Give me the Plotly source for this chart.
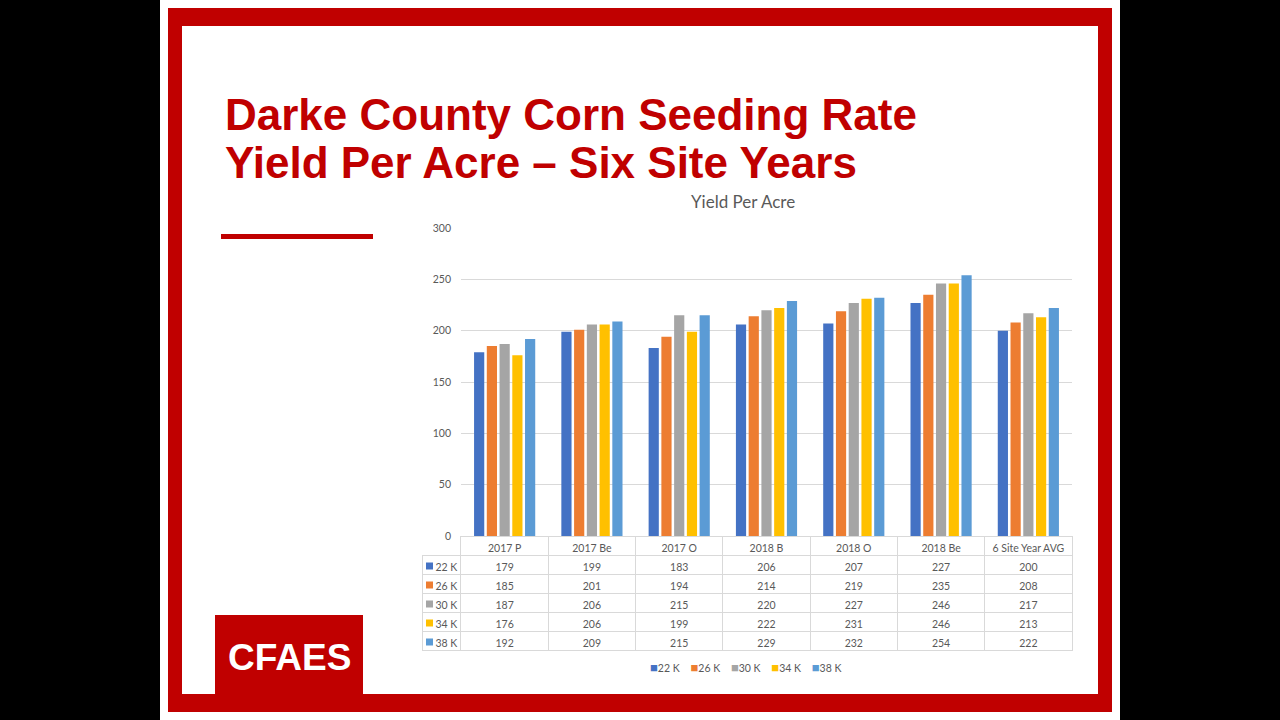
import plotly.graph_objects as go

# ---------------- data ----------------
categories = ["2017 P", "2017 Be", "2017 O", "2018 B", "2018 O", "2018 Be", "6 Site Year AVG"]
series_names = ["22 K", "26 K", "30 K", "34 K", "38 K"]
yield_22k = [179, 199, 183, 206, 207, 227, 200]
yield_26k = [185, 201, 194, 214, 219, 235, 208]
yield_30k = [187, 206, 215, 220, 227, 246, 217]
yield_34k = [176, 206, 199, 222, 231, 246, 213]
yield_38k = [192, 209, 215, 229, 232, 254, 222]
series_values = [yield_22k, yield_26k, yield_30k, yield_34k, yield_38k]
y_ticks = [0, 50, 100, 150, 200, 250, 300]

colors = ["#4472C4", "#ED7D31", "#A5A5A5", "#FFC000", "#5B9BD5"]
RED = "#C00000"
GRAY_TXT = "#595959"
GRID = "#D9D9D9"
FONT = "Lato"
NB = "\u00a0"  # non-breaking space keeps table text on one line

W, H = 1280, 720
TABLE_TOP = 536
ROW_H = 19


def px(x):
    return x / W


def py(y):
    return 1 - y / H


fig = go.Figure()

for name, vals, col in zip(series_names, series_values, colors):
    fig.add_trace(go.Bar(x=categories, y=vals, name=name, marker=dict(color=col, line=dict(width=0)),
                         xaxis="x", yaxis="y", showlegend=False))

# data table under the chart
ncat = len(categories)
legend_labels = [NB * 2 + n.replace(" ", NB) for n in series_names]
header_vals = [""] + [c.replace(" ", NB) for c in categories]
table_cols = [legend_labels] + [[vals[i] for vals in series_values] for i in range(ncat)]
fig.add_trace(go.Table(
    domain=dict(x=[px(422), px(1072)], y=[py(680), py(TABLE_TOP)]),
    columnwidth=[39] + [87.3] * ncat,
    header=dict(values=header_vals, height=ROW_H,
                fill=dict(color=["rgba(0,0,0,0)"] + ["white"] * ncat),
                line=dict(color=["rgba(0,0,0,0)"] + [GRID] * ncat, width=1),
                font=dict(family=FONT, size=10.5, color=GRAY_TXT),
                align="center"),
    cells=dict(values=table_cols, height=ROW_H,
               fill=dict(color="white"),
               line=dict(color=GRID, width=1),
               font=dict(family=FONT, size=10.5, color=GRAY_TXT),
               align=["left"] + ["center"] * ncat),
))

shapes = [
    dict(type="rect", xref="paper", yref="paper", x0=px(160), x1=px(1120), y0=py(720), y1=py(0),
         fillcolor="white", line=dict(width=0), layer="below"),
    dict(type="rect", xref="paper", yref="paper", x0=px(168), x1=px(1112), y0=py(712), y1=py(8),
         fillcolor=RED, line=dict(width=0), layer="below"),
    dict(type="rect", xref="paper", yref="paper", x0=px(182), x1=px(1098), y0=py(694), y1=py(26),
         fillcolor="white", line=dict(width=0), layer="below"),
    dict(type="rect", xref="paper", yref="paper", x0=px(221), x1=px(373), y0=py(239), y1=py(234),
         fillcolor=RED, line=dict(width=0), layer="below"),
    dict(type="rect", xref="paper", yref="paper", x0=px(215), x1=px(363), y0=py(695), y1=py(615),
         fillcolor=RED, line=dict(width=0), layer="below"),
]
# colour keys in the table's legend column
for i, c in enumerate(colors):
    yc = TABLE_TOP + ROW_H * (i + 1) + ROW_H / 2 + 1.5
    shapes.append(dict(type="rect", xref="paper", yref="paper", x0=px(426), x1=px(433),
                       y0=py(yc + 3.5), y1=py(yc - 3.5), fillcolor=c, line=dict(width=0), layer="above"))

legend_text = (NB * 4).join(
    f'<span style="color:{c};font-size:13px">■</span>{n.replace(" ", NB)}' for n, c in zip(series_names, colors))

annotations = [
    dict(text="Darke County Corn Seeding Rate", xref="paper", yref="paper", x=px(223), y=py(115),
         xanchor="left", yanchor="middle", showarrow=False,
         font=dict(family="Liberation Sans", size=44, color=RED, weight="bold")),
    dict(text="Yield Per Acre – Six Site Years", xref="paper", yref="paper", x=px(223), y=py(163),
         xanchor="left", yanchor="middle", showarrow=False,
         font=dict(family="Liberation Sans", size=44, color=RED, weight="bold")),
    dict(text="CFAES", xref="paper", yref="paper", x=px(289), y=py(657),
         xanchor="center", yanchor="middle", showarrow=False,
         font=dict(family="Liberation Sans", size=37, color="white", weight="bold")),
    dict(text="Yield Per Acre", xref="paper", yref="paper", x=px(743), y=py(201),
         xanchor="center", yanchor="middle", showarrow=False,
         font=dict(family=FONT, size=17, color=GRAY_TXT)),
    dict(text=legend_text, xref="paper", yref="paper", x=px(745), y=py(667),
         xanchor="center", yanchor="middle", showarrow=False,
         font=dict(family=FONT, size=10.5, color=GRAY_TXT)),
]

fig.update_layout(
    width=W, height=H,
    margin=dict(l=0, r=0, t=0, b=0, autoexpand=False),
    paper_bgcolor="black",
    plot_bgcolor="white",
    barmode="group",
    bargap=0.27,
    bargroupgap=0.2,
    shapes=shapes,
    annotations=annotations,
    font=dict(family=FONT, size=11, color=GRAY_TXT),
    xaxis=dict(domain=[px(461), px(1072)], showticklabels=False, showgrid=False, automargin=False,
               showline=True, linecolor=GRID, linewidth=1, ticks="", fixedrange=True),
    yaxis=dict(domain=[py(TABLE_TOP), py(228)], range=[0, 300], tickvals=y_ticks, automargin=False,
               showgrid=True, gridcolor=GRID, gridwidth=1, zeroline=False,
               showline=False, ticks="", tickfont=dict(family=FONT, size=10.5, color=GRAY_TXT),
               ticklabelstandoff=9),
    showlegend=False,
)

fig.write_html("out.html")
